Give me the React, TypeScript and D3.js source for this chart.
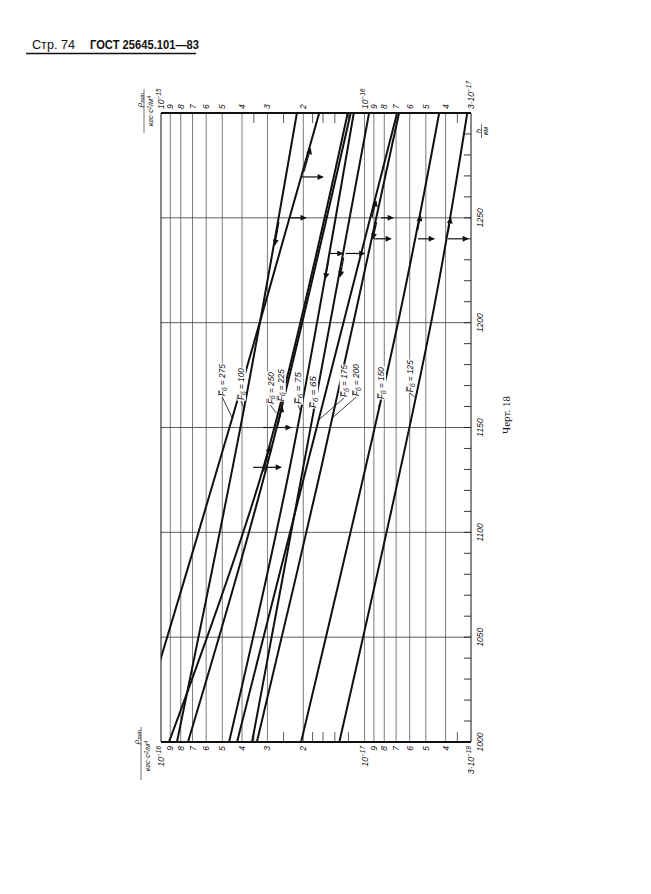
import React from "react";
import * as d3 from "d3";

// ---- axis data ----
const hLabels = [1000, 1050, 1100, 1150, 1200, 1250];
const hGrid = [1050, 1100, 1150, 1200, 1250];
const bottomTickValues = [1e-16, 9e-17, 8e-17, 7e-17, 6e-17, 5e-17, 4e-17, 3e-17, 2e-17, 1e-17, 9e-18, 8e-18, 7e-18, 6e-18, 5e-18, 4e-18, 3e-18];
const bottomTickLabels = ["10^−16", "9", "8", "7", "6", "5", "4", "3", "2", "10^−17", "9", "8", "7", "6", "5", "4", "3·10^−18"];
const topTickValues = [1e-15, 9e-16, 8e-16, 7e-16, 6e-16, 5e-16, 4e-16, 3e-16, 2e-16, 1e-16, 9e-17, 8e-17, 7e-17, 6e-17, 5e-17, 4e-17, 3e-17];
const topTickLabels = ["10^−15", "9", "8", "7", "6", "5", "4", "3", "2", "10^−16", "9", "8", "7", "6", "5", "4", "3·10^−17"];
const minorTickValues = [3.5e-17, 2.5e-17, 1.8e-17, 1.6e-17, 1.4e-17, 1.2e-17, 3.5e-18];

// ---- curves: [h km, rho on lower scale] ----
const curveF275: [number, number][] = [[1000, 1.33e-16], [1155, 4.45e-17], [1300, 1.67e-17]];
const curveF100: [number, number][] = [[1000, 8.35e-17], [1159, 3.91e-17], [1300, 2.15e-17]];
const curveF250: [number, number][] = [[1000, 9.14e-17], [1130, 3.16e-17], [1300, 1.21e-17]];
const curveF225: [number, number][] = [[1000, 7.37e-17], [1130, 3.05e-17], [1300, 1.17e-17]];
const curveF75: [number, number][] = [[1000, 4.63e-17], [1130, 2.34e-17], [1300, 1.13e-17]];
const curveF65: [number, number][] = [[1000, 3.57e-17], [1130, 2.01e-17], [1300, 9.5e-18]];
const curveF175: [number, number][] = [[1000, 4.23e-17], [1130, 1.94e-17], [1300, 6.92e-18]];
const curveF200: [number, number][] = [[1000, 3.38e-17], [1130, 1.64e-17], [1300, 6.77e-18]];
const curveF150: [number, number][] = [[1000, 2.05e-17], [1200, 6.85e-18], [1300, 4.3e-18]];
const curveF125: [number, number][] = [[1000, 1.33e-17], [1200, 4.71e-18], [1300, 3.13e-18]];

const curves = [
  { f: "275", pts: curveF275 },
  { f: "100", pts: curveF100 },
  { f: "250", pts: curveF250 },
  { f: "225", pts: curveF225 },
  { f: "75", pts: curveF75 },
  { f: "65", pts: curveF65 },
  { f: "175", pts: curveF175 },
  { f: "200", pts: curveF200 },
  { f: "150", pts: curveF150 },
  { f: "125", pts: curveF125 },
];

// labels: text centre (h, rho) and leader end height on curve
const curveLabels = [
  { f: "275", h: 1172.6, rho: 5.0e-17, hEnd: 1154.5 },
  { f: "100", h: 1170.7, rho: 4.05e-17, hEnd: 1159.3 },
  { f: "250", h: 1168.8, rho: 2.9e-17, hEnd: 1156.9 },
  { f: "225", h: 1170.2, rho: 2.58e-17, hEnd: 1160.7 },
  { f: "75", h: 1168.8, rho: 2.12e-17, hEnd: 1158.3 },
  { f: "65", h: 1166.9, rho: 1.79e-17, hEnd: 1158.3 },
  { f: "175", h: 1172.2, rho: 1.26e-17, hEnd: 1153.6 },
  { f: "200", h: 1172.6, rho: 1.1e-17, hEnd: 1154.5 },
  { f: "150", h: 1171.2, rho: 8.3e-18, hEnd: 1159.8 },
  { f: "125", h: 1174.5, rho: 5.98e-18, hEnd: 1164.5 },
];

// arrows along curves (from h0 to h1)
const curveArrows = [
  { f: "275", h0: 1272, h1: 1283 },
  { f: "100", h0: 1248, h1: 1237 },
  { f: "250", h0: 1129, h1: 1141 },
  { f: "225", h0: 1151, h1: 1160 },
  { f: "75", h0: 1230, h1: 1221 },
  { f: "65", h0: 1231, h1: 1222 },
  { f: "175", h0: 1250, h1: 1258 },
  { f: "200", h0: 1248, h1: 1240 },
  { f: "150", h0: 1244, h1: 1251 },
  { f: "125", h0: 1243, h1: 1250 },
];
// horizontal arrows
const flowArrows = [
  { h: 1269.5, from: 2.05e-17, to: 1.6e-17 },
  { h: 1250, from: 2.35e-17, to: 1.94e-17 },
  { h: 1250, from: 8.3e-18, to: 7.24e-18 },
  { h: 1240, from: 8.98e-18, to: 7.41e-18 },
  { h: 1240, from: 5.46e-18, to: 4.55e-18 },
  { h: 1240, from: 3.89e-18, to: 3.1e-18 },
  { h: 1233, from: 1.49e-17, to: 1.28e-17 },
  { h: 1233, from: 1.24e-17, to: 1.0e-17 },
  { h: 1150, from: 3.15e-17, to: 2.3e-17 },
  { h: 1131, from: 3.53e-17, to: 2.57e-17 },
];

const rot = (x: number, y: number) => `translate(${x},${y}) rotate(-90)`;
const tickFont = "'Liberation Sans', 'DejaVu Sans', sans-serif";

function PowLabel({ label, x, y, anchor }: { label: string; x: number; y: number; anchor: string }) {
  const parts = label.split("^");
  return (
    <text transform={rot(x, y)} textAnchor={anchor} dy="0.35em" fontFamily={tickFont} fontStyle="italic" fontSize={8.5} fill="#111">
      <tspan>{parts[0]}</tspan>
      {parts[1] && (
        <tspan fontSize={6.5} dy={-3}>
          {parts[1]}
        </tspan>
      )}
    </text>
  );
}

export default function App() {
  const xB = d3.scaleLog().domain([1e-16, 3e-18]).range([161, 471]);
  const xT = d3.scaleLog().domain([1e-15, 3e-17]).range([161, 471]);
  const yH = d3.scaleLinear().domain([1000, 1300]).range([742, 113]);
  const [xl, xr] = xB.range();
  const [yb, yt] = yH.range();

  const line = d3
    .line<[number, number]>()
    .x((d) => xB(d[1]))
    .y((d) => yH(d[0]))
    .curve(d3.curveCatmullRom.alpha(0.5));

  const curveMap = new Map(curves.map((c) => [c.f, c.pts]));
  const onCurve = (f: string, h: number): [number, number] => {
    const pts = curveMap.get(f)!;
    const s = d3.scaleLinear().domain(pts.map((p) => p[0])).range(pts.map((p) => Math.log10(p[1])));
    return [xB(Math.pow(10, s(h))), yH(h)];
  };

  const hMinor = d3.range(1010, 1300, 10);

  return (
    <svg width={651} height={894} style={{ position: "absolute", left: 0, top: 0, background: "#fff" }}>
      <defs>
        <clipPath id="plot">
          <rect x={xl} y={yt} width={xr - xl} height={yb - yt} />
        </clipPath>
        <marker id="ah" viewBox="0 0 10 10" refX="9" refY="5" markerWidth="8" markerHeight="6" orient="auto" markerUnits="userSpaceOnUse">
          <path d="M0,0 L10,5 L0,10 z" fill="#111" />
        </marker>
      </defs>

      {/* header */}
      <text x={32} y={49} fontFamily="'Liberation Sans', Arial, sans-serif" fontSize={12} fill="#111" textLength={43} lengthAdjust="spacingAndGlyphs">
        Стр. 74
      </text>
      <text x={90} y={49} fontFamily="'Liberation Sans', Arial, sans-serif" fontSize={12} fontWeight="bold" fill="#111" textLength={109} lengthAdjust="spacingAndGlyphs">
        ГОСТ 25645.101—83
      </text>
      <line x1={26} x2={196} y1={53.5} y2={53.5} stroke="#111" strokeWidth={1.6} />

      {/* horizontal grid */}
      {hGrid.map((h) => (
        <line key={"hg" + h} x1={xl} x2={xr} y1={yH(h)} y2={yH(h)} stroke="#333" strokeWidth={0.8} />
      ))}
      {/* vertical grid */}
      {bottomTickValues.slice(1, -1).map((v, i) => (
        <line key={"vg" + i} x1={xB(v)} x2={xB(v)} y1={yt} y2={yb} stroke="#444" strokeWidth={0.7} />
      ))}
      {/* minor ticks top/bottom */}
      {minorTickValues.map((v, i) => (
        <g key={"mt" + i}>
          <line x1={xB(v)} x2={xB(v)} y1={yb} y2={yb - 10} stroke="#333" strokeWidth={0.8} />
          <line x1={xB(v)} x2={xB(v)} y1={yt} y2={yt + 10} stroke="#333" strokeWidth={0.8} />
        </g>
      ))}
      {/* right ticks every 10 km */}
      {hMinor.map((h) => (
        <line key={"rt" + h} x1={xr - 7} x2={xr} y1={yH(h)} y2={yH(h)} stroke="#222" strokeWidth={0.9} />
      ))}

      {/* frame */}
      <line x1={xl} x2={xl} y1={yt} y2={yb} stroke="#111" strokeWidth={1} />
      <line x1={xr} x2={xr} y1={yt} y2={yb} stroke="#111" strokeWidth={1} />
      <line x1={xl} x2={xr} y1={yt} y2={yt} stroke="#111" strokeWidth={2} />
      <line x1={xl} x2={xr} y1={yb} y2={yb} stroke="#111" strokeWidth={2} />

      {/* curves */}
      <g clipPath="url(#plot)">
        {curves.map((c) => (
          <path key={c.f} d={line(c.pts) || ""} fill="none" stroke="#111" strokeWidth={2} />
        ))}
      </g>

      {/* arrows on curves */}
      {curveArrows.map((a, i) => {
        const p0 = onCurve(a.f, a.h0);
        const p1 = onCurve(a.f, a.h1);
        return <line key={"ca" + i} x1={p0[0] + 1.5} y1={p0[1]} x2={p1[0] + 1.5} y2={p1[1]} stroke="#111" strokeWidth={1.2} markerEnd="url(#ah)" />;
      })}
      {flowArrows.map((a, i) => (
        <line key={"fa" + i} x1={xB(a.from)} x2={xB(a.to)} y1={yH(a.h)} y2={yH(a.h)} stroke="#111" strokeWidth={1.2} markerEnd="url(#ah)" />
      ))}

      {/* curve labels */}
      {curveLabels.map((l) => {
        const cx = xB(l.rho);
        const cy = yH(l.h);
        const end = onCurve(l.f, l.hEnd);
        return (
          <g key={"lab" + l.f}>
            <line x1={cx} y1={cy + 17} x2={end[0]} y2={end[1]} stroke="#111" strokeWidth={0.8} />
            <g transform={rot(cx, cy)}>
              <rect x={-16.5} y={-4.5} width={33} height={9.5} fill="#fff" />
              <text x={-16} y={3.2} fontFamily={tickFont} fontStyle="italic" fontSize={8.5} fill="#111" textLength={32} lengthAdjust="spacingAndGlyphs">
                F<tspan fontSize={6.5} dy={1.5}>б</tspan>
                <tspan dy={-1.5}> = {l.f}</tspan>
              </text>
              <line x1={-15.5} x2={-10.5} y1={-3.6} y2={-3.6} stroke="#111" strokeWidth={0.6} />
            </g>
          </g>
        );
      })}

      {/* top tick labels */}
      {topTickValues.map((v, i) => (
        <PowLabel key={"tl" + i} label={topTickLabels[i]} x={xT(v)} y={yt - 4} anchor="start" />
      ))}
      {/* bottom tick labels */}
      {bottomTickValues.map((v, i) => (
        <PowLabel key={"bl" + i} label={bottomTickLabels[i]} x={xB(v)} y={yb + 4} anchor="end" />
      ))}
      {/* h labels */}
      {hLabels.map((h) => (
        <text key={"hl" + h} transform={rot(xr + 9, yH(h))} textAnchor="middle" dy="0.35em" fontFamily={tickFont} fontStyle="italic" fontSize={8.5} fill="#111">
          {h}
        </text>
      ))}

      {/* h/km */}
      <text transform={rot(xr + 7, yt + 18)} textAnchor="middle" dy="0.35em" fontFamily={tickFont} fontStyle="italic" fontSize={8} fill="#111">
        h
      </text>
      <line x1={xr + 10.5} x2={xr + 10.5} y1={yt + 11} y2={yt + 25} stroke="#111" strokeWidth={0.6} />
      <text transform={rot(xr + 15, yt + 18)} textAnchor="middle" dy="0.35em" fontFamily={tickFont} fontStyle="italic" fontSize={7} fill="#111">
        км
      </text>

      {/* rho_min labels top-left */}
      <text transform={rot(139, 100)} textAnchor="middle" dy="0.35em" fontFamily={tickFont} fontStyle="italic" fontSize={8} fill="#111">
        ρ<tspan fontSize={6} dy={2}>min</tspan>
      </text>
      <line x1={144} x2={144} y1={89} y2={133} stroke="#111" strokeWidth={0.6} />
      <text transform={rot(150, 111)} textAnchor="middle" dy="0.35em" fontFamily={tickFont} fontStyle="italic" fontSize={7.5} fill="#111">
        кгс·с<tspan fontSize={5.5} dy={-2}>2</tspan>
        <tspan dy={2}>/м</tspan>
        <tspan fontSize={5.5} dy={-2}>4</tspan>
      </text>

      {/* rho_min labels bottom-left */}
      <text transform={rot(136, 737)} textAnchor="middle" dy="0.35em" fontFamily={tickFont} fontStyle="italic" fontSize={8} fill="#111">
        ρ<tspan fontSize={6} dy={2}>min</tspan>
      </text>
      <line x1={141} x2={141} y1={727} y2={780} stroke="#111" strokeWidth={0.6} />
      <text transform={rot(147, 756)} textAnchor="middle" dy="0.35em" fontFamily={tickFont} fontStyle="italic" fontSize={7.5} fill="#111">
        кгс·с<tspan fontSize={5.5} dy={-2}>2</tspan>
        <tspan dy={2}>/м</tspan>
        <tspan fontSize={5.5} dy={-2}>4</tspan>
      </text>

      {/* caption */}
      <text transform={rot(506, 415)} textAnchor="middle" dy="0.35em" fontFamily="'Liberation Serif', serif" fontSize={11} fill="#111">
        Черт. 18
      </text>
    </svg>
  );
}
